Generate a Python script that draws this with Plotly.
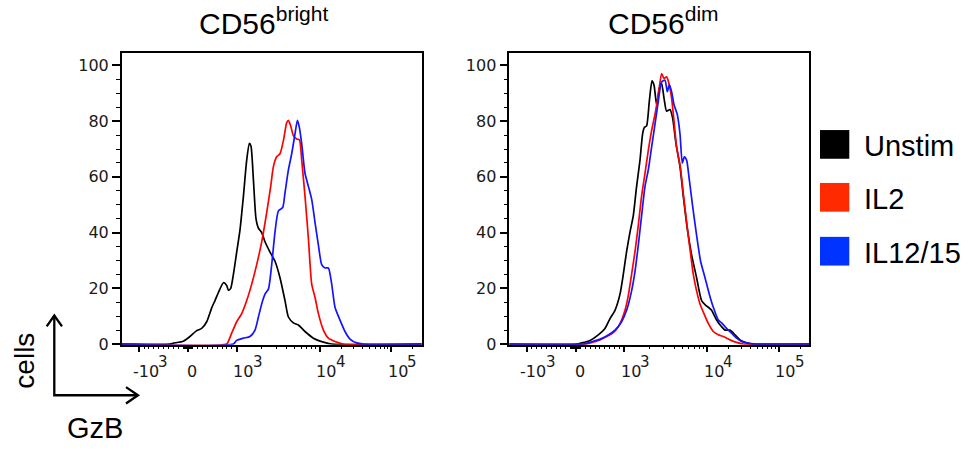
import numpy as np
import plotly.graph_objects as go

W, H = 971, 450

# ---------------- data (x in display channels of the biexponential GzB axis, y = % of max) -------------
series_names = ["Unstim", "IL2", "IL12/15"]
line_colors = ["#000000", "#ff0000", "#1414ff"]
legend_colors = ["#000000", "#ff2a00", "#0033ff"]

bright_unstim_x = [0, 48.3, 51.7, 61.7, 68.3, 75, 80, 85, 90, 93.3, 96.7, 101.7, 105, 106.7, 109, 111.7, 115,
                   118.3, 121.7, 125, 127.7, 129.3, 131.7, 134.3, 136.7, 140, 143.3, 148.3, 153.3, 158.3,
                   163.3, 166.7, 171.7, 176.7, 183.3, 191.7, 201.7, 210, 300]
bright_unstim_y = [0, 0, 0.3, 1, 2.7, 4.8, 5.6, 8, 13, 15.6, 18.5, 22, 21, 19.3, 20, 25, 33,
                   41, 53, 66, 72, 71, 59, 45, 41.6, 40, 36.7, 33, 29.7, 23.8,
                   15.6, 9.7, 7.6, 6.8, 4.5, 2.1, 0.7, 0, 0]

bright_il2_x = [0, 105, 106.7, 110, 115, 120, 125, 130, 135, 140, 145, 149, 151.7, 155, 158.3, 161.7, 165,
                166.7, 169, 171.7, 175, 177.7, 180, 183.3, 186.7, 190, 193.3, 196.7, 201.7, 206.7, 213.3,
                221.7, 300]
bright_il2_y = [0, 0, 1, 3.9, 8, 10.9, 15.6, 21.5, 28.5, 36.7, 47.2, 56.6, 63.7, 67.2, 68.3, 73, 79.5,
                80.3, 78.3, 74.8, 73.6, 73.3, 66, 53.1, 37.9, 21.5, 16.8, 10.9, 5, 2.1, 0.9,
                0, 0]

bright_il1215_x = [0, 111.7, 115, 121.7, 128.3, 133.3, 136.7, 140, 143.3, 146.7, 150, 153.3, 156.7, 161,
                   163.3, 166.7, 170, 173.3, 175.7, 177.7, 180, 183.3, 186.7, 190, 193.3, 196.7, 200,
                   203.3, 206.7, 210, 213.3, 218.3, 223.3, 228.3, 235, 241.7, 300]
bright_il1215_y = [0, 0, 1.3, 2.1, 2.7, 5, 9.7, 14.4, 17.9, 19.7, 28.5, 40.2, 47.8, 49,
                   54.3, 62.5, 68.3, 75.4, 80.3, 77.7, 71.9, 61.3, 56.6, 51.9, 43.7, 35.5, 28.5,
                   27.3, 27.3, 21.5, 13.2, 8.6, 4.5, 1.8, 0.4, 0, 0]

dim_unstim_x = [0, 67.3, 72.3, 80.7, 89, 95.7, 100.7, 105.7, 110.7, 114, 117.3, 120.7, 124, 127.3, 130.7,
                133.3, 135, 137.3, 140, 142.7, 144.7, 147.3, 150, 152.3, 154.7, 157.3, 160.7, 163.3,
                166.7, 170.7, 174, 178, 182.3, 187.3, 192.3, 196.7, 199, 202.3, 207.3, 212.3, 215.7,
                220.7, 225.7, 230.7, 237.3, 244, 300]
dim_unstim_y = [0, 0, 0.4, 1.3, 3.3, 5.6, 9.1, 12.1, 17.9, 25, 33.2, 40.2, 46.1, 56.6, 66,
                75.4, 77.7, 78.3, 87.1, 94.5, 93, 85.9, 91.8, 93.6, 88.3, 83.6, 84.2, 81.2,
                71.9, 63.7, 53.1, 41.4, 32, 23.8, 15.6, 13.8, 13.2, 12.1, 8.6, 6.2, 5,
                5, 3.3, 1.5, 0.4, 0, 0]

dim_il2_x = [0, 77.3, 84, 90.7, 97.3, 104, 109, 112.3, 115.7, 119, 122.3, 125.7, 129, 132.3, 135.7, 139,
             142.3, 145.7, 149, 152.3, 154.7, 157.3, 160, 162.3, 164.7, 167.3, 171, 174.3, 177.7, 181,
             184, 187.3, 190.7, 194.7, 199, 204, 209, 214, 220.7, 227.3, 234, 300]
dim_il2_y = [0, 0, 0.7, 1.5, 2.7, 4.1, 6.2, 8.6, 12.1, 17.4, 25, 33.2, 42.6, 53.1, 61.3, 69.5,
             76.6, 82.4, 89.4, 97.1, 95.3, 95.9, 93, 88.3, 80.1, 70.7, 63.7, 53.1, 42.6, 33.2,
             25, 19.1, 14.4, 10.9, 7.4, 4.5, 3.3, 2.7, 1.5, 0.6, 0, 0]

dim_il1215_x = [0, 74, 80.7, 89, 97.3, 105.7, 112.3, 117.3, 122.3, 125.7, 129, 132.3, 135.7, 139, 142.3,
                145.7, 149, 152.3, 155.7, 158, 160, 162.3, 164.7, 168, 170.7, 173, 175, 177.3, 180,
                183.3, 187.3, 191.3, 195.7, 200, 204, 209, 212.3, 217.3, 222.3, 227.3, 232.3, 237.3,
                247.3, 300]
dim_il1215_y = [0, 0, 0.7, 1.5, 2.9, 5, 8, 12.1, 19.1, 26.1, 35.5, 46.1, 56.6, 62.5, 70.7,
                78.9, 87.1, 94.1, 94.7, 90.6, 93, 90.6, 85.9, 82.4, 75.4, 64.9, 67.2, 66, 59,
                49.6, 39, 29.7, 23.8, 17.9, 13.2, 8.6, 7.6, 5.6, 3.9, 2.1, 0.9, 0.4,
                0, 0]

panel_titles = ["CD56<sup>bright</sup>", "CD56<sup>dim</sup>"]
major_tick_values = [-1000, 0, 1000, 10000, 100000]
major_tick_bases = ["-10", "0", "10", "10", "10"]
major_tick_exps = ["3", "", "3", "4", "5"]
y_tick_values = [0, 20, 40, 60, 80, 100]
y_axis_title = "cells"
x_axis_title = "GzB"

# ---------------- axis scale: biexponential display (linear around 0, log above 10^3) ----------------
def gzb_channel(v):
    v = float(v)
    if abs(v) <= 1000:
        return 66.25 + v * 0.04875
    lv = np.log10(v)
    return float(np.interp(lv, [3, 4, 5, 6], [115, 198, 269.5, 341]))

minor_values = ([-k * 100 for k in range(1, 10)] + [-k * 10 for k in range(1, 10)] +
                [k * 10 for k in range(1, 10)] + [k * 100 for k in range(1, 10)] +
                [k * 1000 for k in range(2, 10)] + [k * 10000 for k in range(2, 10)] + [200000])
major_pos = [gzb_channel(v) for v in major_tick_values]
minor_pos = [gzb_channel(v) for v in minor_values]

# ---------------- figure ----------------
fig = go.Figure()

panels = [
    ("x", "y", [(bright_unstim_x, bright_unstim_y), (bright_il2_x, bright_il2_y),
                (bright_il1215_x, bright_il1215_y)]),
    ("x2", "y2", [(dim_unstim_x, dim_unstim_y), (dim_il2_x, dim_il2_y),
                  (dim_il1215_x, dim_il1215_y)]),
]
for xa, ya, curves in panels:
    for i in [0, 1, 2]:
        cx, cy = curves[i]
        fig.add_trace(go.Scatter(x=cx, y=cy, mode="lines", name=series_names[i],
                                 line=dict(color=line_colors[i], width=1.7, shape="spline", smoothing=0.6),
                                 xaxis=xa, yaxis=ya, showlegend=False, hoverinfo="skip"))

def px_x(p):
    return p / W

def px_y(p):
    return 1 - p / H

dom_left = [px_x(121.7), px_x(421.7)]
dom_right = [px_x(509.3), px_x(809.3)]
dom_y = [px_y(351.7), px_y(54)]

tick_font = dict(family="DejaVu Sans", size=16, color="#1a1a1a")
exp_font = dict(family="DejaVu Sans", size=15, color="#1a1a1a")

xaxis_common = dict(range=[0, 300], showline=True, linecolor="black", linewidth=1.5, mirror=True,
                    ticks="outside", tickmode="array", tickvals=major_pos, ticklen=6, tickwidth=1.5,
                    tickcolor="black", showticklabels=False, showgrid=False, zeroline=False,
                    fixedrange=True,
                    minor=dict(tickmode="array", tickvals=minor_pos, ticks="outside", ticklen=3,
                               tickwidth=1, tickcolor="black", showgrid=False))
yaxis_common = dict(range=[-0.23, 104.5], showline=True, linecolor="black", linewidth=1.5, mirror=True,
                    ticks="outside", tickmode="array", tickvals=y_tick_values, ticklen=8, tickwidth=1.5,
                    tickcolor="black", tickfont=tick_font, showgrid=False, zeroline=False,
                    fixedrange=True,
                    minor=dict(dtick=5, tick0=0, ticks="outside", ticklen=4, tickwidth=1,
                               tickcolor="black", showgrid=False))

fig.update_layout(
    width=W, height=H, autosize=False,
    margin=dict(l=0, r=0, t=0, b=0),
    paper_bgcolor="white", plot_bgcolor="white",
    showlegend=False,
    xaxis=dict(domain=dom_left, anchor="y", **xaxis_common),
    yaxis=dict(domain=dom_y, anchor="x", **yaxis_common),
    xaxis2=dict(domain=dom_right, anchor="y2", **xaxis_common),
    yaxis2=dict(domain=dom_y, anchor="x2", **yaxis_common),
)

annotations = []
shapes = []

# x tick labels (FlowJo style: base centred a little right of the tick, full-size raised exponent)
char_w = {"-": 0.361, "1": 0.636, "0": 0.636}
for xr in ["x", "x2"]:
    for pos, base, ex in zip(major_pos, major_tick_bases, major_tick_exps):
        if ex:
            cx = pos + 6.5
            annotations.append(dict(x=cx, y=px_y(379), xref=xr, yref="paper", text=base,
                                    showarrow=False, xanchor="center", yanchor="middle", font=tick_font))
            bw = sum(char_w[c] for c in base) * tick_font["size"]
            annotations.append(dict(x=cx + bw / 2 - 2.5, y=px_y(369), xref=xr, yref="paper", text=ex,
                                    showarrow=False, xanchor="left", yanchor="middle", font=exp_font))
        else:
            annotations.append(dict(x=pos + 4.5, y=px_y(379), xref=xr, yref="paper", text=base,
                                    showarrow=False, xanchor="center", yanchor="middle", font=tick_font))

# panel titles
title_font = dict(family="Liberation Sans, Arial", size=30, color="black")
for cx, txt in zip([263, 663.3], panel_titles):
    annotations.append(dict(x=px_x(cx), y=px_y(43), xref="paper", yref="paper", text=txt,
                            showarrow=False, xanchor="center", yanchor="bottom", font=title_font))

# legend (squares + labels)
legend_font = dict(family="Liberation Sans, Arial", size=29, color="black")
sq_tops = [132.7, 186.7, 241.7]
for name, col, top in zip(series_names, legend_colors, sq_tops):
    shapes.append(dict(type="rect", xref="paper", yref="paper", x0=px_x(820), x1=px_x(849.3),
                       y0=px_y(top + 29.3), y1=px_y(top), fillcolor=col, line=dict(width=0)))
    annotations.append(dict(x=px_x(861.5), y=px_y(top + 16.5), xref="paper", yref="paper", text=name,
                            showarrow=False, xanchor="left", yanchor="middle", font=legend_font))

# axis-orientation arrows bottom-left
arrow_line = dict(color="black", width=2.3)
shapes.append(dict(type="path", xref="paper", yref="paper",
                   path=f"M {px_x(54.3)},{px_y(322)} L {px_x(54.3)},{px_y(403.3)} L {px_x(138)},{px_y(403.3)}",
                   line=arrow_line))
shapes.append(dict(type="path", xref="paper", yref="paper",
                   path=f"M {px_x(46.7)},{px_y(333)} L {px_x(54.3)},{px_y(322)} L {px_x(62)},{px_y(333)}",
                   line=arrow_line))
shapes.append(dict(type="path", xref="paper", yref="paper",
                   path=f"M {px_x(126)},{px_y(395)} L {px_x(138)},{px_y(403.3)} L {px_x(126)},{px_y(411.7)}",
                   line=arrow_line))
axis_font = dict(family="Liberation Sans, Arial", size=28, color="black")
annotations.append(dict(x=px_x(25), y=px_y(368), xref="paper", yref="paper", text=y_axis_title,
                        textangle=-90, showarrow=False, xanchor="center", yanchor="middle", font=axis_font))
annotations.append(dict(x=px_x(95), y=px_y(437), xref="paper", yref="paper", text=x_axis_title,
                        showarrow=False, xanchor="center", yanchor="middle",
                        font=dict(family="Liberation Sans, Arial", size=29, color="black")))

fig.update_layout(annotations=annotations, shapes=shapes)
fig.write_html("out.html", config={"displayModeBar": False},
               post_script="document.body.style.margin='0';document.body.style.overflow='hidden';")
